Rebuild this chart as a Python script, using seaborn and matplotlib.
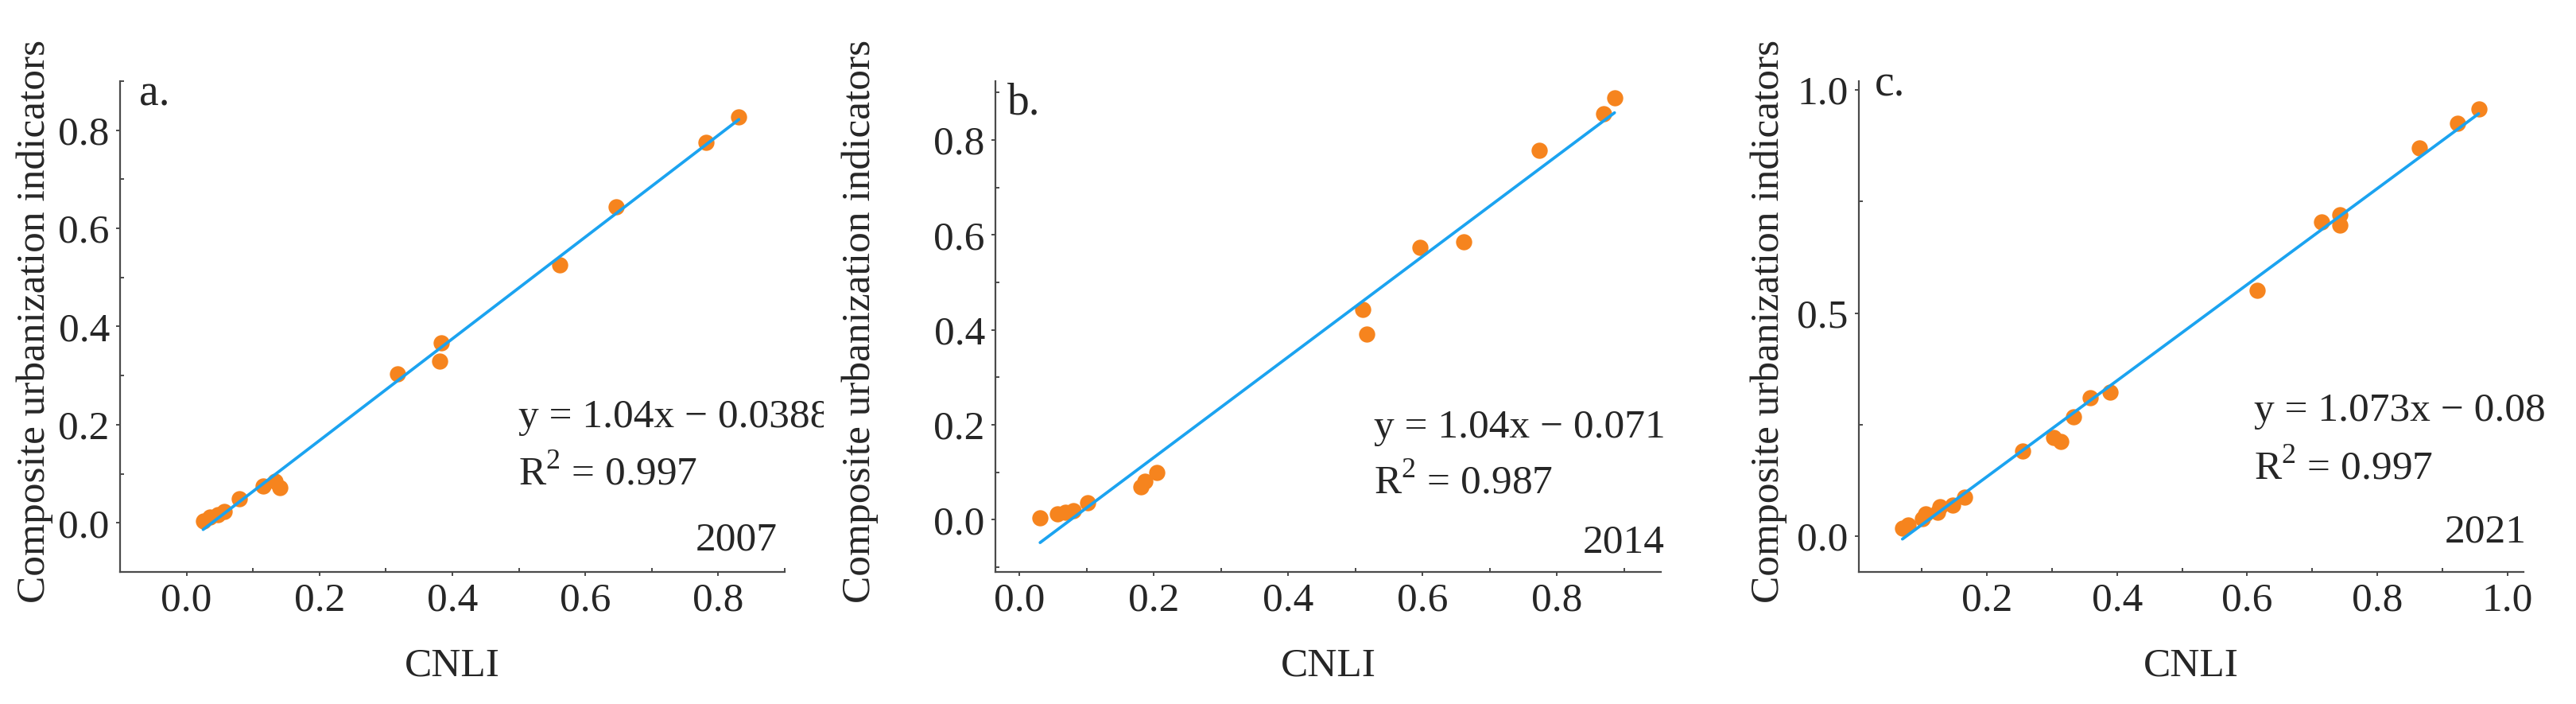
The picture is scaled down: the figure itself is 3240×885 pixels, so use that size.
import numpy as np
import pandas as pd
import matplotlib
matplotlib.use("Agg")
import matplotlib.pyplot as plt
from matplotlib.ticker import MultipleLocator, FormatStrFormatter
from matplotlib.transforms import Bbox
import seaborn as sns

# ---------------- data ----------------
cnli_2007 = [0.025, 0.035, 0.047, 0.057, 0.080, 0.115, 0.133, 0.141,
             0.318, 0.381, 0.383, 0.562, 0.646, 0.782, 0.831]
cui_2007 = [0.004, 0.012, 0.017, 0.023, 0.049, 0.075, 0.085, 0.072,
            0.304, 0.329, 0.366, 0.526, 0.644, 0.776, 0.827]

cnli_2014 = [0.031, 0.057, 0.069, 0.080, 0.102, 0.181, 0.187, 0.205,
             0.511, 0.517, 0.597, 0.661, 0.774, 0.870, 0.886]
cui_2014 = [0.004, 0.012, 0.016, 0.019, 0.036, 0.069, 0.081, 0.099,
            0.443, 0.391, 0.574, 0.586, 0.778, 0.855, 0.889]

cnli_2021 = [0.070, 0.079, 0.101, 0.106, 0.124, 0.128, 0.147, 0.165,
             0.255, 0.303, 0.314, 0.333, 0.359, 0.389,
             0.615, 0.714, 0.743, 0.743, 0.865, 0.924, 0.956]
cui_2021 = [0.018, 0.025, 0.039, 0.050, 0.053, 0.066, 0.070, 0.087,
            0.191, 0.221, 0.212, 0.267, 0.310, 0.323,
            0.552, 0.705, 0.720, 0.698, 0.870, 0.925, 0.958]

panel_letters = ["a.", "b.", "c."]
years = ["2007", "2014", "2021"]
equations = ["y = 1.04x \u2212 0.0388", "y = 1.04x \u2212 0.071", "y = 1.073x \u2212 0.08"]
r2_texts = ["R$^2$ = 0.997", "R$^2$ = 0.987", "R$^2$ = 0.997"]
x_label = "CNLI"
y_label = "Composite urbanization indicators"

# ---------------- style ----------------
sns.set_theme(style="white")
plt.rcParams["font.family"] = ["Liberation Serif", "DejaVu Serif"]
plt.rcParams["mathtext.fontset"] = "custom"
plt.rcParams["mathtext.rm"] = "Liberation Serif"

ORANGE = "#F6841E"
BLUE = "#1BA3F0"
SPINE = "#4a4a4a"
FS = 37

W, H = 3241, 885
fig = plt.figure(figsize=(W / 100, H / 100), dpi=100)

rects = [(151, 987), (1252, 2089), (2338, 3174)]
top_px, bot_px = 102, 719

data = [(cnli_2007, cui_2007), (cnli_2014, cui_2014), (cnli_2021, cui_2021)]
xlims = [(-0.1, 0.9), (-0.0355, 0.955), (0.003, 1.025)]
ylims = [(-0.1, 0.9), (-0.11, 0.924), (-0.08, 1.02)]
xmaj = [0.2, 0.2, 0.2]
xmin_ = [0.1, 0.1, 0.1]
ymaj = [0.2, 0.2, 0.5]
ymin_ = [0.1, 0.1, 0.25]
ylab_x = [-0.1, -0.176, -0.108]
eq_pos = [(0.599, 0.295, 0.177), (0.569, 0.274, 0.159), (0.594, 0.308, 0.188)]
year_pos = [(0.989, 0.044), (1.006, 0.039), (1.004, 0.06)]
letter_pos = [(0.029, 0.95), (0.018, 0.932), (0.024, 0.97)]
clip_right = [1036, 2200, 3241]

for i in range(3):
    l, r = rects[i]
    ax = fig.add_axes([l / W, 1 - bot_px / H, (r - l) / W, (bot_px - top_px) / H])
    df = pd.DataFrame({"CNLI": data[i][0], "CUI": data[i][1]})
    sns.regplot(data=df, x="CNLI", y="CUI", ax=ax, ci=None, truncate=True,
                scatter_kws=dict(s=215, color=ORANGE, alpha=1, linewidths=0),
                line_kws=dict(color=BLUE, lw=2.7))
    ax.set_xlim(*xlims[i])
    ax.set_ylim(*ylims[i])
    ax.xaxis.set_major_locator(MultipleLocator(xmaj[i]))
    ax.xaxis.set_minor_locator(MultipleLocator(xmin_[i]))
    ax.yaxis.set_major_locator(MultipleLocator(ymaj[i]))
    ax.yaxis.set_minor_locator(MultipleLocator(ymin_[i]))
    ax.xaxis.set_major_formatter(FormatStrFormatter("%.1f"))
    ax.yaxis.set_major_formatter(FormatStrFormatter("%.1f"))
    for s in ["top", "right"]:
        ax.spines[s].set_visible(False)
    for s in ["left", "bottom"]:
        ax.spines[s].set_color(SPINE)
        ax.spines[s].set_linewidth(1.6)
    ax.tick_params(axis="both", which="major", direction="out", length=3.5,
                   width=1.4, color=SPINE, labelsize=FS, pad=6,
                   bottom=True, left=True)
    ax.tick_params(axis="both", which="minor", direction="in", length=3.5,
                   width=1.4, color=SPINE, bottom=True, left=True)
    ax.set_xlabel(x_label, fontsize=FS)
    ax.set_ylabel(y_label, fontsize=FS)
    ax.xaxis.set_label_coords(0.5, -0.154)
    ax.yaxis.set_label_coords(ylab_x[i], 0.51)

    ex, ey1, ey2 = eq_pos[i]
    t = ax.text(ex, ey1, equations[i], transform=ax.transAxes, fontsize=FS,
                ha="left", va="baseline")
    t.set_clip_on(True)
    t.set_clip_box(Bbox.from_extents(0, 0, clip_right[i], H))
    ax.text(ex, ey2, r2_texts[i], transform=ax.transAxes, fontsize=FS,
            ha="left", va="baseline")
    ax.text(year_pos[i][0], year_pos[i][1], years[i], transform=ax.transAxes,
            fontsize=FS, ha="right", va="baseline")
    ax.text(letter_pos[i][0], letter_pos[i][1], panel_letters[i],
            transform=ax.transAxes, fontsize=40, ha="left", va="baseline")

fig.savefig("out.png", dpi=100, facecolor="white")
